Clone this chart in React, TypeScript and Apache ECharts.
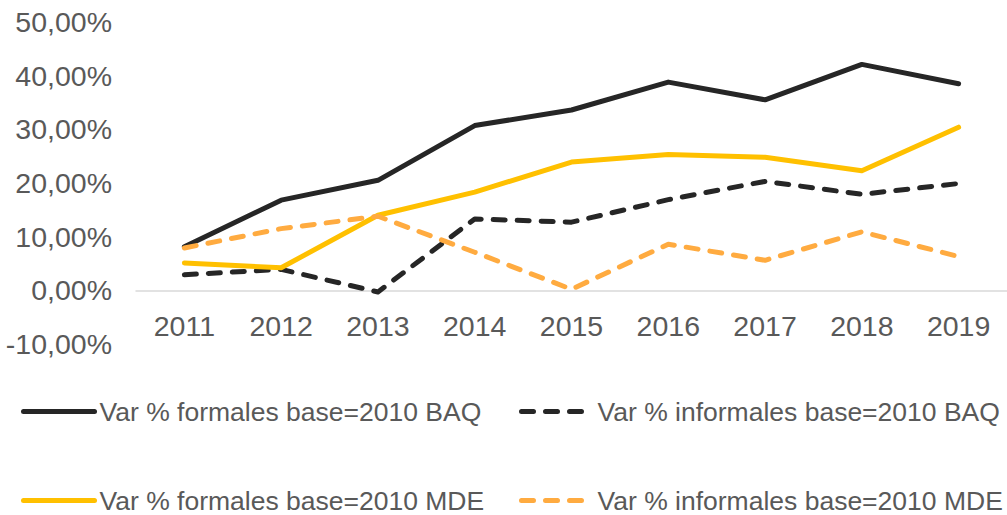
import React, { useEffect, useRef } from "react";
import * as echarts from "echarts";

const years = ["2011", "2012", "2013", "2014", "2015", "2016", "2017", "2018", "2019"];
const formalesBAQ = [8.1, 16.8, 20.5, 30.7, 33.6, 38.8, 35.5, 42.1, 38.5];
const informalesBAQ = [2.9, 3.9, -0.3, 13.3, 12.7, 16.9, 20.3, 17.9, 19.9];
const formalesMDE = [5.1, 4.2, 14.0, 18.3, 23.9, 25.3, 24.8, 22.3, 30.4];
const informalesMDE = [7.9, 11.5, 13.8, 7.1, 0.2, 8.6, 5.6, 10.9, 6.3];

const names = [
  "Var % formales base=2010 BAQ",
  "Var % informales base=2010 BAQ",
  "Var % formales base=2010 MDE",
  "Var % informales base=2010 MDE",
];

const FONT = "'Liberation Sans', Arial, sans-serif";
const TXT = "#595959";
const BLACK = "#262626";
const YELLOW = "#FFC000";
const ORANGE = "#FFAB40";

export default function App() {
  const ref = useRef<HTMLDivElement>(null);
  useEffect(() => {
    document.body.style.margin = "0";
    const chart = echarts.init(ref.current!, null, { renderer: "svg" });
    const mkLine = (name: string, data: number[], color: string, dashed: boolean) => ({
      name,
      type: "line",
      data,
      symbol: "none",
      showSymbol: false,
      lineStyle: {
        color,
        width: 5,
        type: dashed ? [12, 12] : "solid",
        cap: "round",
        join: "round",
      },
      itemStyle: { color },
      emphasis: { disabled: true },
    });
    const mkLegend = (name: string, left: number, top: number, dashed: boolean) => ({
      data: [name],
      left,
      top,
      padding: 0,
      itemWidth: 71,
      itemHeight: 14,
      selectedMode: false,
      itemStyle: { opacity: 0, borderWidth: 0 },
      lineStyle: { width: 5, type: dashed ? [12, 12] : "solid", cap: "round" },
      textStyle: { fontFamily: FONT, fontSize: 26.5, lineHeight: 22, color: TXT },
    });
    chart.setOption({
      animation: false,
      grid: { left: 136, right: 0, top: 22, bottom: 171, containLabel: false },
      xAxis: {
        type: "category",
        data: years,
        boundaryGap: true,
        axisLine: { show: true, onZero: true, lineStyle: { color: "#D9D9D9", width: 1.5 } },
        axisTick: { show: false },
        axisLabel: { fontFamily: FONT, fontSize: 28.5, color: TXT, margin: -33 },
        splitLine: { show: false },
      },
      yAxis: {
        type: "value",
        min: -10,
        max: 50,
        interval: 10,
        axisLine: { show: false },
        axisTick: { show: false },
        splitLine: { show: false },
        axisLabel: {
          fontFamily: FONT,
          fontSize: 28.5,
          color: TXT,
          margin: 24,
          formatter: (v: number) => v.toFixed(2).replace(".", ",") + "%",
        },
      },
      legend: [
        mkLegend(names[0], 21, 398, false),
        mkLegend(names[1], 519, 398, true),
        mkLegend(names[2], 21, 487, false),
        mkLegend(names[3], 519, 487, true),
      ],
      series: [
        mkLine(names[0], formalesBAQ, BLACK, false),
        mkLine(names[1], informalesBAQ, BLACK, true),
        mkLine(names[2], formalesMDE, YELLOW, false),
        mkLine(names[3], informalesMDE, ORANGE, true),
      ],
    });
    return () => chart.dispose();
  }, []);
  return <div ref={ref} style={{ width: 1007, height: 515 }} />;
}
